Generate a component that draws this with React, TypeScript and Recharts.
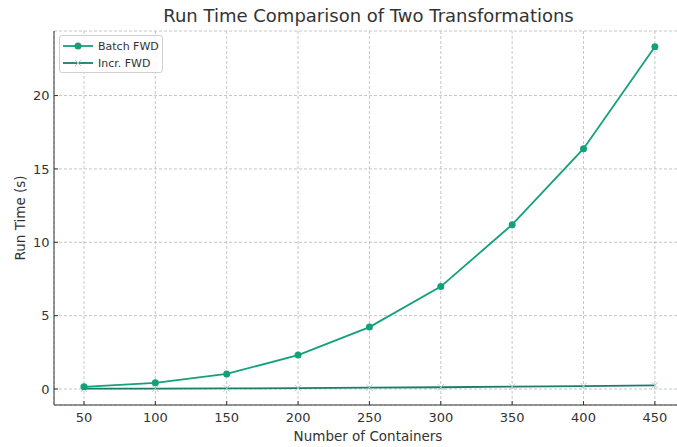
import React from "react"
import { LineChart, Line, XAxis, YAxis, CartesianGrid, Label } from "recharts"

const containers = [50, 100, 150, 200, 250, 300, 350, 400, 450]
const batchFwd = [0.15, 0.42, 1.03, 2.31, 4.22, 6.98, 11.2, 16.38, 23.32]
const incrFwd = [0.02, 0.03, 0.04, 0.06, 0.09, 0.12, 0.16, 0.2, 0.25]
const xTicks = [50, 100, 150, 200, 250, 300, 350, 400, 450]
const yTicks = [0, 5, 10, 15, 20]

const BATCH = "#13a07b"
const INCR = "#1f7b69"
const FONT = "'DejaVu Sans', sans-serif"

const data = containers.map((c, i) => ({ n: c, batch: batchFwd[i], incr: incrFwd[i] }))

const XMark = (props: any) => {
  const { cx, cy } = props
  if (cx == null || cy == null) return null
  const s = 3.2
  return (
    <g stroke="#a8cfc3" strokeWidth={1}>
      <line x1={cx - s} y1={cy - s} x2={cx + s} y2={cy + s} />
      <line x1={cx - s} y1={cy + s} x2={cx + s} y2={cy - s} />
    </g>
  )
}

// legend drawn as an overlay so it does not eat into the plot area
const LegendBox = () => (
  <div
    style={{
      position: "absolute",
      left: 59,
      top: 35,
      width: 104,
      height: 38,
      border: "1px solid #d0d0d0",
      borderRadius: 3,
      background: "rgba(255,255,255,0.85)",
      boxSizing: "border-box",
    }}
  >
    <svg width={102} height={36} style={{ display: "block" }}>
      <line x1={3} y1={10} x2={33} y2={10} stroke={BATCH} strokeWidth={1.8} />
      <circle cx={18} cy={10} r={3.5} fill={BATCH} />
      <text x={38} y={14} fill="#333" fontSize={11} fontFamily={FONT}>Batch FWD</text>
      <line x1={3} y1={27} x2={33} y2={27} stroke={INCR} strokeWidth={1.8} />
      <g stroke="#a8cfc3" strokeWidth={1}>
        <line x1={15} y1={24} x2={21} y2={30} />
        <line x1={15} y1={30} x2={21} y2={24} />
      </g>
      <text x={38} y={31} fill="#333" fontSize={11} fontFamily={FONT}>Incr. FWD</text>
    </svg>
  </div>
)

export default function App() {
  return (
    <div style={{ position: "fixed", left: 0, top: 0, width: 677, height: 447, overflow: "hidden", background: "#fff" }}>
      <div
        style={{
          position: "absolute",
          top: 5,
          left: 54,
          width: 629,
          textAlign: "center",
          fontFamily: FONT,
          fontSize: 18,
          color: "#333",
        }}
      >
        Run Time Comparison of Two Transformations
      </div>
      <LineChart
        width={684}
        height={447}
        data={data}
        margin={{ top: 31, right: 2, bottom: 0, left: 0 }}
      >
        <CartesianGrid stroke="#b8b8b8" strokeDasharray="3 2" strokeWidth={0.8} />
        <XAxis
          dataKey="n"
          type="number"
          domain={[29, 469]}
          ticks={xTicks}
          height={42}
          tickSize={-4}
          tickMargin={12}
          stroke="#333"
          tick={{ fill: "#333", fontSize: 13, fontFamily: FONT }}
          allowDataOverflow
        >
          <Label value="Number of Containers" position="insideBottom" offset={6} fill="#333" fontSize={13.5} fontFamily={FONT} />
        </XAxis>
        <YAxis
          type="number"
          domain={[-1.09, 24.4]}
          ticks={yTicks}
          width={54}
          tickSize={-4}
          tickMargin={8.5}
          stroke="#333"
          tick={{ fill: "#333", fontSize: 13, fontFamily: FONT }}
          allowDataOverflow
        >
          <Label value="Run Time (s)" angle={-90} position="insideLeft" offset={20} style={{ textAnchor: "middle" }} fill="#333" fontSize={13.5} fontFamily={FONT} />
        </YAxis>
        <Line
          dataKey="incr"
          stroke={INCR}
          strokeWidth={1.8}
          dot={<XMark />}
          isAnimationActive={false}
        />
        <Line
          dataKey="batch"
          stroke={BATCH}
          strokeWidth={1.8}
          dot={{ r: 3.5, fill: BATCH, stroke: BATCH, strokeWidth: 0 }}
          isAnimationActive={false}
        />
      </LineChart>
      <LegendBox />
    </div>
  )
}
